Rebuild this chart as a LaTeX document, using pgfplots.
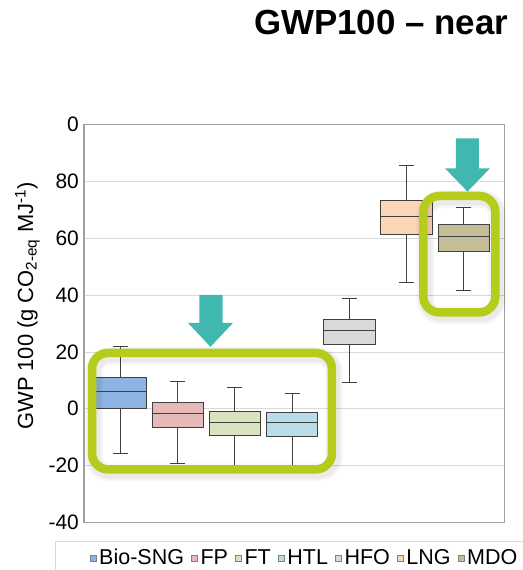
\documentclass[border=0pt]{standalone}
\usepackage{fontspec}
\setmainfont{Liberation Sans}
\usepackage{pgfplots}
\pgfplotsset{compat=1.18}
\usepgfplotslibrary{statistics}
\definecolor{cBio}{HTML}{8DB4E2}
\definecolor{cFP}{HTML}{E6B9B8}
\definecolor{cFT}{HTML}{D7E4BD}
\definecolor{cHTL}{HTML}{B7DEE8}
\definecolor{cHFO}{HTML}{D9D9D9}
\definecolor{cLNG}{HTML}{FCD5B5}
\definecolor{cMDO}{HTML}{C4BD97}
\definecolor{limec}{HTML}{B5CC1D}
\definecolor{arrowteal}{HTML}{40B8AF}
\definecolor{gridc}{HTML}{D9D9D9}
\definecolor{framec}{HTML}{A0A0A0}
\definecolor{boxline}{HTML}{404040}
\tikzset{shd/.style={black, opacity=0.028, line width=#1, rounded corners=16bp, shift={(2bp,-3bp)}}}
\begin{document}
\begin{tikzpicture}
\useasboundingbox (-84bp,-47.5bp) rectangle (439bp,522.5bp);
\clip (-84bp,-47.5bp) rectangle (439bp,522.5bp);
\begin{axis}[
  at={(0,0)}, anchor=south west,
  scale only axis, width=420.3bp, height=398bp,
  xmin=-0.638, xmax=6.71, ymin=-40, ymax=100,
  xtick=\empty,
  ytick={-40,-20,0,20,40,60,80,100},
  yticklabels={-40,-20,0,20,40,60,80,0},
  ymajorgrids, grid style={draw=gridc, line width=0.8bp},
  axis line style={draw=framec, line width=1.2bp},
  major tick length=0pt,
  yticklabel style={font=\fontsize{21}{24}\selectfont, inner xsep=0pt, xshift=-5bp},
  /pgf/number format/assume math mode=true,
  ylabel={GWP 100 (g CO\textsubscript{2-eq} MJ\textsuperscript{-1})},
  ylabel style={at={(axis description cs:-0.1345,0.544)}, anchor=center, font=\fontsize{22}{26}\selectfont},
  boxplot/draw direction=y,
  boxplot/box extend=0.9,
  boxplot/whisker extend=0.26,
  clip=false,
  legend columns=-1,
  legend image code/.code={\draw[#1] (0bp,-3bp) rectangle (6bp,3bp);},
  legend style={at={(axis description cs:-0.069,-0.0465)}, anchor=north west,
    draw=gridc, line width=0.8bp, inner xsep=34.5bp, inner ysep=8bp,
    font=\fontsize{21.6}{24}\selectfont,
    nodes={inner sep=0pt, font=\fontsize{21.6}{24}\selectfont},
    /tikz/every odd column/.append style={column sep=2.8bp},
    /tikz/every even column/.append style={column sep=7.2bp}},
]
\addplot[forget plot, fill=cBio, draw=boxline, line width=0.8bp, boxplot prepared={lower whisker=-15.8, lower quartile=0.2, median=6.2, upper quartile=11, upper whisker=22, draw position=0}] coordinates {};
\addplot[forget plot, fill=cFP, draw=boxline, line width=0.8bp, boxplot prepared={lower whisker=-19.1, lower quartile=-6.4, median=-1.5, upper quartile=2.1, upper whisker=9.7, draw position=1}] coordinates {};
\addplot[forget plot, fill=cFT, draw=boxline, line width=0.8bp, boxplot prepared={lower whisker=-21, lower quartile=-9.5, median=-4.7, upper quartile=-0.9, upper whisker=7.5, draw position=2}] coordinates {};
\addplot[forget plot, fill=cHTL, draw=boxline, line width=0.8bp, boxplot prepared={lower whisker=-21, lower quartile=-9.7, median=-4.8, upper quartile=-1.2, upper whisker=5.3, draw position=3}] coordinates {};
\addplot[forget plot, fill=cHFO, draw=boxline, line width=0.8bp, boxplot prepared={lower whisker=9.3, lower quartile=22.5, median=27.6, upper quartile=31.3, upper whisker=39, draw position=4}] coordinates {};
\addplot[forget plot, fill=cLNG, draw=boxline, line width=0.8bp, boxplot prepared={lower whisker=44.3, lower quartile=61.5, median=67.5, upper quartile=73.2, upper whisker=85.6, draw position=5}] coordinates {};
\addplot[forget plot, fill=cMDO, draw=boxline, line width=0.8bp, boxplot prepared={lower whisker=41.5, lower quartile=55.5, median=60.5, upper quartile=64.7, upper whisker=70.7, draw position=6}] coordinates {};
\addlegendimage{fill=cBio, draw=gray, line width=0.5bp}
\addlegendentry{Bio-SNG}
\addlegendimage{fill=cFP, draw=gray, line width=0.5bp}
\addlegendentry{FP}
\addlegendimage{fill=cFT, draw=gray, line width=0.5bp}
\addlegendentry{FT}
\addlegendimage{fill=cHTL, draw=gray, line width=0.5bp}
\addlegendentry{HTL}
\addlegendimage{fill=cHFO, draw=gray, line width=0.5bp}
\addlegendentry{HFO}
\addlegendimage{fill=cLNG, draw=gray, line width=0.5bp}
\addlegendentry{LNG}
\addlegendimage{fill=cMDO, draw=gray, line width=0.5bp}
\addlegendentry{MDO}
% annotation shadows
\draw[shd=18bp] (axis cs:-0.498,19.65) rectangle (axis cs:3.697,-21.3);
\draw[shd=15bp] (axis cs:-0.498,19.65) rectangle (axis cs:3.697,-21.3);
\draw[shd=12bp] (axis cs:-0.498,19.65) rectangle (axis cs:3.697,-21.3);
\draw[shd=18bp] (axis cs:5.294,74.85) rectangle (axis cs:6.553,33.9);
\draw[shd=15bp] (axis cs:5.294,74.85) rectangle (axis cs:6.553,33.9);
\draw[shd=12bp] (axis cs:5.294,74.85) rectangle (axis cs:6.553,33.9);
% annotations
\draw[limec, line width=8.5bp, rounded corners=16bp] (axis cs:-0.498,19.65) rectangle (axis cs:3.697,-21.3);
\draw[limec, line width=8.5bp, rounded corners=16bp] (axis cs:5.294,74.85) rectangle (axis cs:6.553,33.9);
\fill[arrowteal] (axis cs:1.378,40.1) -- (axis cs:1.787,40.1) -- (axis cs:1.787,30.2) -- (axis cs:1.967,30.2) -- (axis cs:1.573,21.8) -- (axis cs:1.18,30.2) -- (axis cs:1.378,30.2) -- cycle;
\fill[arrowteal] (axis cs:5.865,95.1) -- (axis cs:6.267,95.1) -- (axis cs:6.267,84.6) -- (axis cs:6.46,84.6) -- (axis cs:6.066,76.4) -- (axis cs:5.673,84.6) -- (axis cs:5.865,84.6) -- cycle;
\end{axis}
\node[anchor=base west, inner sep=0pt, font=\bfseries\fontsize{35}{40}\selectfont] at (170bp,487.5bp) {GWP100 – near};
\end{tikzpicture}
\end{document}
